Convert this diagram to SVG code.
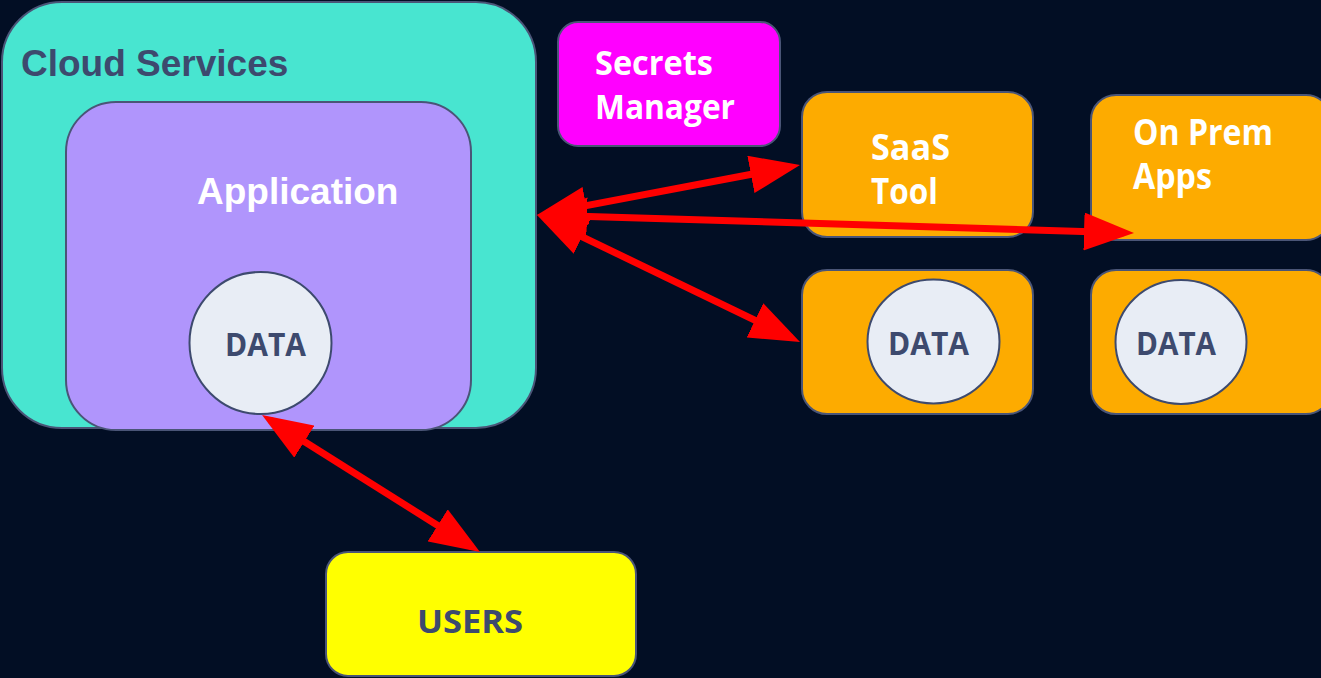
<svg xmlns="http://www.w3.org/2000/svg" width="1321" height="678" viewBox="0 0 1321 678">
  <style>
    .box { stroke: #4a5577; stroke-width: 2; }
    .disk { fill: #e8edf5; stroke: #3d4a6e; stroke-width: 2; }
    .sans { font-family: "Liberation Sans", Arial, sans-serif; font-weight: bold; }
    .humanist { font-family: "Open Sans", "Noto Sans", sans-serif; font-weight: bold; }
    .dark { fill: #3d4a6e; }
    .light { fill: #ffffff; }
    .link { stroke: #ff0000; stroke-width: 7; fill: none; marker-start: url(#head); marker-end: url(#head); }
    .oneway { stroke: #ff0000; stroke-width: 7; fill: none; marker-end: url(#head); }
  </style>
  <defs>
    <!-- arrowhead: 50 long, 38 wide; tip sits 10px beyond the line end -->
    <marker id="head" markerUnits="userSpaceOnUse" viewBox="0 0 50 38" markerWidth="50" markerHeight="38" refX="40" refY="19" orient="auto-start-reverse">
      <path d="M0,0 L50,19 L0,38 Z" fill="#ff0000"/>
    </marker>
  </defs>

  <rect width="1321" height="678" fill="#020e24"/>

  <g id="cloud-services">
    <rect class="box" x="2" y="2" width="534" height="426" rx="60" fill="#48e5d0"/>
    <text class="sans dark" x="21" y="76" font-size="37">Cloud Services</text>
  </g>

  <g id="application">
    <rect class="box" x="66" y="102" width="405" height="328" rx="50" fill="#b095fc"/>
    <text class="sans light" x="197" y="204" font-size="37">Application</text>
  </g>

  <g id="app-data">
    <circle class="disk" cx="260.5" cy="343" r="71"/>
    <text class="humanist dark" x="225" y="356" font-size="33" textLength="81" lengthAdjust="spacingAndGlyphs">DATA</text>
  </g>

  <g id="secrets-manager">
    <rect class="box" x="558" y="22" width="222" height="124" rx="20" fill="#ff00ff"/>
    <text class="humanist light" font-size="34">
      <tspan x="595" y="75" textLength="118" lengthAdjust="spacingAndGlyphs">Secrets</tspan>
      <tspan x="595" y="119" textLength="140" lengthAdjust="spacingAndGlyphs">Manager</tspan>
    </text>
  </g>

  <g id="saas-tool">
    <rect class="box" x="802" y="92" width="231" height="145" rx="25" fill="#fdab00"/>
    <text class="humanist light" font-size="35">
      <tspan x="871" y="160" textLength="79" lengthAdjust="spacingAndGlyphs">SaaS</tspan>
      <tspan x="871" y="204" textLength="67" lengthAdjust="spacingAndGlyphs">Tool</tspan>
    </text>
  </g>

  <g id="on-prem-apps">
    <rect class="box" x="1091" y="95" width="240" height="145" rx="25" fill="#fdab00"/>
    <text class="humanist light" font-size="35">
      <tspan x="1133" y="145" textLength="140" lengthAdjust="spacingAndGlyphs">On Prem</tspan>
      <tspan x="1133" y="189" textLength="79" lengthAdjust="spacingAndGlyphs">Apps</tspan>
    </text>
  </g>

  <g id="saas-data">
    <rect class="box" x="802" y="270" width="231" height="144" rx="25" fill="#fdab00"/>
    <ellipse class="disk" cx="933.5" cy="341.5" rx="66" ry="62"/>
    <text class="humanist dark" x="888" y="355" font-size="33" textLength="81" lengthAdjust="spacingAndGlyphs">DATA</text>
  </g>

  <g id="on-prem-data">
    <rect class="box" x="1091" y="270" width="240" height="144" rx="25" fill="#fdab00"/>
    <ellipse class="disk" cx="1181" cy="342" rx="65.5" ry="62"/>
    <text class="humanist dark" x="1136" y="355" font-size="33" textLength="80" lengthAdjust="spacingAndGlyphs">DATA</text>
  </g>

  <g id="users">
    <rect class="box" x="326" y="552" width="310" height="124" rx="22" fill="#ffff00"/>
    <text class="humanist dark" x="417" y="633" font-size="33" textLength="106" lengthAdjust="spacingAndGlyphs">USERS</text>
  </g>

  <g id="connectors">
    <line class="link" x1="546.8" y1="213.1" x2="790.2" y2="166.9"/>
    <line class="link" x1="547" y1="215.3" x2="1124" y2="232.7"/>
    <line class="link" x1="546" y1="219.3" x2="791" y2="337.7"/>
    <line class="link" x1="270.5" y1="420.3" x2="471.5" y2="546.7"/>
  </g>
</svg>
